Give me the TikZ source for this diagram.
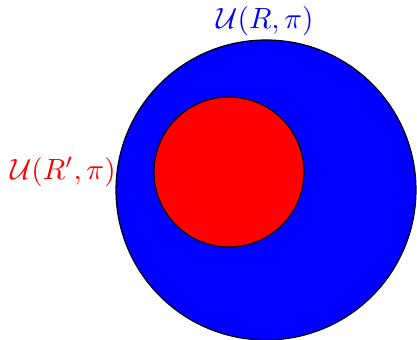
\documentclass[tikz,border=0pt]{standalone}
\usepackage{amsmath}
\usepackage{amssymb}
\usetikzlibrary{positioning}
\tikzset{
  ball/.style={draw, circle, inner sep=0pt, line width=0.4pt},
  biglabel/.style={inner sep=0pt, font=\normalsize},
}

\begin{document}
\begin{tikzpicture}
    \useasboundingbox (0,0) rectangle (5.004,4.08);
    \node[ball, fill=blue, minimum size=3.6cm] (outer) at (3.192,1.8) {};
    \node[ball, fill=red, minimum size=1.8cm] (inner) at (2.748,2.016) {};
    \node[biglabel, blue] (outerlabel) at (3.18,3.82) {$\mathcal{U}(R,\pi)$};
    \node[biglabel, red, anchor=east] (innerlabel) at (1.395,2.016) {$\mathcal{U}(R',\pi)$};
  \end{tikzpicture}
\end{document}
